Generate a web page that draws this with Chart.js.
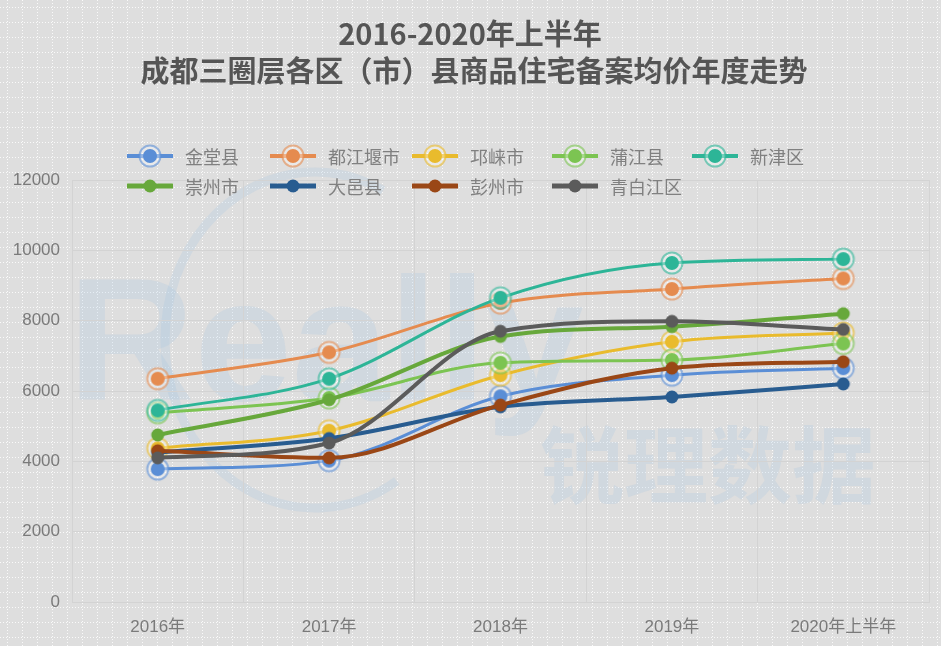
<!DOCTYPE html>
<html>
<head>
<meta charset="utf-8">
<script src="https://cdn.jsdelivr.net/npm/chart.js@4/dist/chart.umd.min.js"></script>
<style>
  html, body { margin: 0; padding: 0; background: #dfdfdf; }
  #wrap { width: 941px; height: 646px; }
</style>
</head>
<body>
<div id="wrap"><canvas id="c"></canvas></div>
<script>
// data
const years = ['2016年', '2017年', '2018年', '2019年', '2020年上半年'];
const yTicks = [0, 2000, 4000, 6000, 8000, 10000, 12000];
const titleLines = ['2016-2020年上半年', '成都三圈层各区（市）县商品住宅备案均价年度走势'];

const names = ['金堂县', '都江堰市', '邛崃市', '蒲江县', '新津区', '崇州市', '大邑县', '彭州市', '青白江区'];
const jintang      = [3780, 4020, 5850, 6450, 6650];
const dujiangyan   = [6350, 7100, 8500, 8900, 9200];
const qionglai     = [4370, 4870, 6450, 7400, 7650];
const pujiang      = [5380, 5800, 6800, 6880, 7350];
const xinjin       = [5450, 6350, 8650, 9640, 9750];
const chongzhou    = [4750, 5750, 7550, 7830, 8200];
const dayi         = [4250, 4650, 5550, 5830, 6200];
const pengzhou     = [4300, 4100, 5600, 6650, 6830];
const qingbaijiang = [4100, 4520, 7700, 7980, 7750];
const series = [jintang, dujiangyan, qionglai, pujiang, xinjin, chongzhou, dayi, pengzhou, qingbaijiang];

const colors = ['#5a8ed6', '#e58b4f', '#e9bb2d', '#7cc452', '#2db597', '#67a83b', '#285c90', '#9a4716', '#5b5b5b'];
const FONT = '"Liberation Sans", "Noto Sans CJK SC", sans-serif';
const CJK = '"Noto Sans CJK SC", sans-serif';

function rgba(hex, a) {
  const n = parseInt(hex.slice(1), 16);
  return 'rgba(' + (n >> 16) + ',' + ((n >> 8) & 255) + ',' + (n & 255) + ',' + a + ')';
}

// marker images: ringed ones for the first five, plain dots for the rest
function makeMarker(color, ringed) {
  const cv = document.createElement('canvas');
  cv.width = 26; cv.height = 26;
  const g = cv.getContext('2d');
  if (ringed) {
    g.beginPath(); g.arc(13, 13, 10.5, 0, Math.PI * 2);
    g.fillStyle = 'rgba(255,255,255,0.35)'; g.fill();
    g.lineWidth = 2; g.strokeStyle = rgba(color, 0.6); g.stroke();
    g.beginPath(); g.arc(13, 13, 7, 0, Math.PI * 2);
    g.fillStyle = color; g.fill();
  } else {
    g.beginPath(); g.arc(13, 13, 6.5, 0, Math.PI * 2);
    g.fillStyle = color; g.fill();
  }
  return cv;
}
const markers = colors.map((c, i) => makeMarker(c, i < 5));

const datasets = names.map((n, i) => ({
  label: n,
  data: series[i],
  borderColor: colors[i],
  backgroundColor: colors[i],
  borderWidth: i < 5 ? 3 : 4,
  cubicInterpolationMode: 'monotone',
  pointStyle: markers[i],
  pointRadius: 8,
  order: names.length - i
}));

const bgPlugin = {
  id: 'bg',
  beforeDraw(chart) {
    const ctx = chart.ctx, w = chart.width, h = chart.height;
    ctx.save();
    ctx.fillStyle = '#dedede';
    ctx.fillRect(0, 0, w, h);
    // dotted texture
    ctx.strokeStyle = 'rgba(255,255,255,0.85)';
    ctx.lineWidth = 1;
    ctx.setLineDash([1, 2]);
    ctx.beginPath();
    for (let y = 7.5; y < h; y += 15) { ctx.moveTo(0, y); ctx.lineTo(w, y); }
    for (let x = 7.5; x < w; x += 15) { ctx.moveTo(x, 0); ctx.lineTo(x, h); }
    ctx.stroke();
    ctx.setLineDash([]);
    // faint watermark
    const wm = 'rgba(165,195,225,0.24)';
    ctx.strokeStyle = wm;
    ctx.lineWidth = 9;
    ctx.beginPath();
    ctx.ellipse(315, 340, 150, 168, 0, -63 * Math.PI / 180, 57 * Math.PI / 180, true);
    ctx.stroke();
    ctx.fillStyle = wm;
    ctx.textBaseline = 'alphabetic';
    ctx.font = 'bold 175px ' + FONT;
    ctx.fillText('Really', 68, 400);
    ctx.font = 'bold 84px ' + CJK;
    ctx.fillText('锐理数据', 540, 497);
    ctx.restore();
  },
  afterDraw(chart) {
    const ctx = chart.ctx;
    ctx.save();
    // title
    ctx.fillStyle = '#555555';
    ctx.font = 'bold 29px ' + CJK;
    ctx.textAlign = 'center';
    ctx.textBaseline = 'middle';
    ctx.fillText(titleLines[0], 470, 34);
    ctx.fillText(titleLines[1], 474, 71);
    // legend, laid out in columns
    const colX = [127, 270, 412, 552, 692];
    const rowY = [156, 186];
    ctx.textAlign = 'left';
    ctx.font = '18px ' + CJK;
    names.forEach((n, i) => {
      const x = colX[i % 5], y = rowY[i < 5 ? 0 : 1];
      ctx.strokeStyle = colors[i];
      ctx.lineWidth = i < 5 ? 4 : 5;
      ctx.beginPath(); ctx.moveTo(x, y); ctx.lineTo(x + 46, y); ctx.stroke();
      ctx.drawImage(markers[i], x + 23 - 13, y - 13);
      ctx.fillStyle = '#808080';
      ctx.fillText(n, x + 58, y + 1);
    });
    ctx.restore();
  }
};

new Chart(document.getElementById('c'), {
  type: 'line',
  data: { labels: years, datasets: datasets },
  options: {
    responsive: true,
    maintainAspectRatio: false,
    animation: false,
    layout: { padding: { left: 8, right: 12, top: 180, bottom: 9 } },
    plugins: { legend: { display: false }, title: { display: false }, tooltip: { enabled: false } },
    scales: {
      x: {
        offset: true,
        afterFit(scale) { scale.height = 35; },
        grid: { offset: true, color: '#d3d3d3', drawTicks: false },
        border: { color: '#d3d3d3' },
        ticks: { color: '#7a7a7a', font: { size: 17, family: FONT }, padding: 15 }
      },
      y: {
        min: yTicks[0],
        max: yTicks[yTicks.length - 1],
        afterBuildTicks(scale) { scale.ticks = yTicks.map(v => ({ value: v })); },
        afterFit(scale) { scale.width = 64; },
        grid: { color: '#d3d3d3', drawTicks: false },
        border: { color: '#d3d3d3' },
        ticks: { color: '#7a7a7a', font: { size: 17, family: FONT }, padding: 12, callback: v => String(v) }
      }
    }
  },
  plugins: [bgPlugin]
});
</script>
</body>
</html>
